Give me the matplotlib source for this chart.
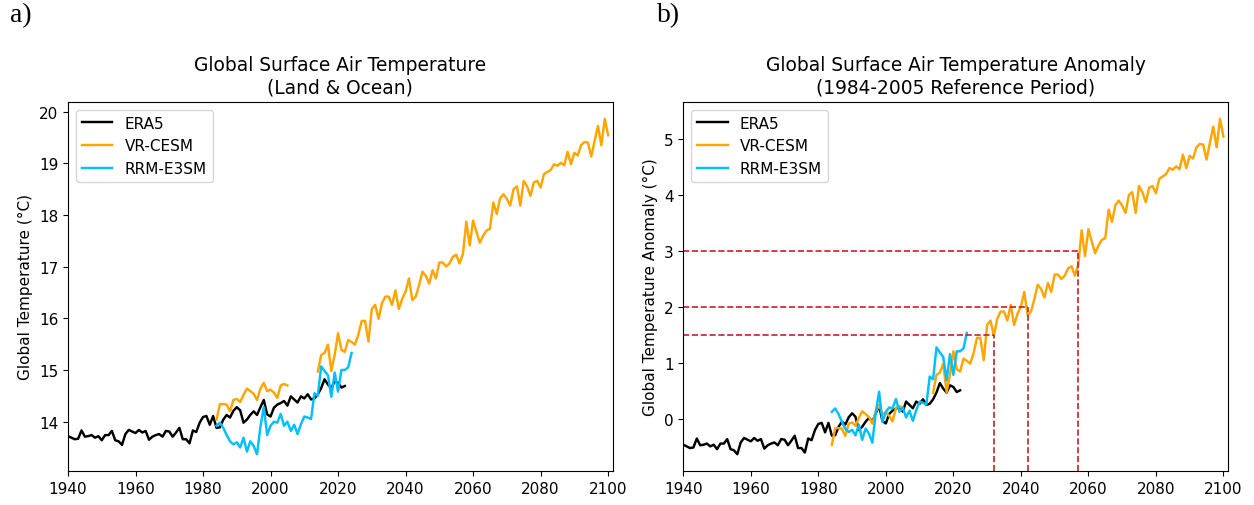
import numpy as np
import matplotlib.pyplot as plt

# annual global mean surface air temperature (degC)
era5_years = np.arange(1940, 2023)
era5_temp = [13.72, 13.69, 13.66, 13.67, 13.83, 13.71, 13.72, 13.74, 13.69, 13.72,
             13.64, 13.74, 13.74, 13.82, 13.64, 13.62, 13.55, 13.76, 13.84, 13.81,
             13.78, 13.84, 13.79, 13.82, 13.65, 13.71, 13.74, 13.76, 13.71, 13.82,
             13.81, 13.71, 13.79, 13.88, 13.66, 13.66, 13.58, 13.83, 13.80, 13.98,
             14.09, 14.11, 13.94, 14.11, 13.88, 13.89, 14.04, 14.13, 14.08, 14.21,
             14.28, 14.22, 13.98, 14.04, 14.13, 14.20, 14.13, 14.28, 14.42, 14.14,
             14.10, 14.27, 14.33, 14.36, 14.40, 14.31, 14.49, 14.43, 14.37, 14.49,
             14.45, 14.53, 14.43, 14.45, 14.53, 14.65, 14.82, 14.72, 14.65, 14.78,
             14.75, 14.66, 14.69]

cesm_hist_years = np.arange(1984, 2006)
cesm_hist_temp = [14.04, 14.34, 14.34, 14.33, 14.20, 14.42, 14.44, 14.38, 14.52, 14.64,
                  14.59, 14.54, 14.42, 14.64, 14.75, 14.59, 14.62, 14.56, 14.46, 14.70,
                  14.73, 14.70]

cesm_fut_years = np.arange(2014, 2101)
cesm_fut_temp = [14.97, 15.29, 15.33, 15.49, 14.98, 15.29, 15.71, 15.39, 15.35, 15.58,
                 15.54, 15.49, 15.68, 15.95, 15.95, 15.55, 16.18, 16.26, 15.99, 16.29,
                 16.42, 16.42, 16.26, 16.54, 16.18, 16.38, 16.51, 16.77, 16.35, 16.42,
                 16.64, 16.90, 16.82, 16.67, 16.93, 16.77, 17.08, 17.08, 17.00, 17.06,
                 17.19, 17.23, 17.06, 17.25, 17.87, 17.41, 17.89, 17.67, 17.46, 17.60,
                 17.70, 17.73, 18.24, 18.02, 18.32, 18.40, 18.31, 18.18, 18.50, 18.55,
                 18.18, 18.66, 18.55, 18.37, 18.63, 18.66, 18.53, 18.79, 18.83, 18.87,
                 18.98, 18.95, 19.01, 18.96, 19.22, 18.98, 19.20, 19.15, 19.35, 19.41,
                 19.40, 19.13, 19.43, 19.72, 19.35, 19.86, 19.54]

e3sm_years = np.arange(1984, 2025)
e3sm_temp = [13.92, 13.98, 13.88, 13.74, 13.62, 13.56, 13.60, 13.50, 13.69, 13.42,
             13.62, 13.53, 13.37, 13.90, 14.28, 13.74, 13.92, 14.00, 13.98, 14.15,
             13.92, 14.00, 13.82, 13.94, 13.76, 13.95, 14.10, 14.08, 14.05, 14.55,
             14.50, 15.07, 14.98, 14.90, 14.48, 14.95, 14.58, 15.00, 15.00, 15.05,
             15.33]

ref_start, ref_end = 1984, 2005
warming_levels = [1.5, 2.0, 3.0]
crossing_years = [2032, 2042, 2057]

C_ERA5 = 'black'
C_CESM = 'orange'
C_E3SM = '#00bfff'
C_REF = '#c42127'
LW = 1.75
FS = 11
FS_TITLE = 13.4

plt.rcParams['font.size'] = FS


def ref_mean(years, vals):
    years = np.asarray(years)
    vals = np.asarray(vals)
    m = (years >= ref_start) & (years <= ref_end)
    return vals[m].mean()


fig = plt.figure(figsize=(12.54, 5.06), dpi=100)
ax1 = fig.add_axes([68 / 1254, 1 - 472 / 506, 544.5 / 1254, 369 / 506])
ax2 = fig.add_axes([683.3 / 1254, 1 - 472 / 506, 544.5 / 1254, 369 / 506])

# a) absolute temperature
ax1.plot(era5_years, era5_temp, color=C_ERA5, lw=LW, label='ERA5')
ax1.plot(cesm_hist_years, cesm_hist_temp, color=C_CESM, lw=LW, label='VR-CESM')
ax1.plot(cesm_fut_years, cesm_fut_temp, color=C_CESM, lw=LW)
ax1.plot(e3sm_years, e3sm_temp, color=C_E3SM, lw=LW, label='RRM-E3SM')
ax1.set_title('Global Surface Air Temperature\n(Land & Ocean)', fontsize=FS_TITLE, pad=7)
ax1.set_ylabel('Global Temperature (°C)')
ax1.legend(loc='upper left')

# b) anomaly relative to 1984-2005
era5_ref = ref_mean(era5_years, era5_temp)
cesm_ref = ref_mean(cesm_hist_years, cesm_hist_temp)
e3sm_ref = ref_mean(e3sm_years, e3sm_temp)
ax2.plot(era5_years, np.array(era5_temp) - era5_ref, color=C_ERA5, lw=LW, label='ERA5')
ax2.plot(cesm_hist_years, np.array(cesm_hist_temp) - cesm_ref, color=C_CESM, lw=LW, label='VR-CESM')
ax2.plot(cesm_fut_years, np.array(cesm_fut_temp) - cesm_ref, color=C_CESM, lw=LW)
ax2.plot(e3sm_years, np.array(e3sm_temp) - e3sm_ref, color=C_E3SM, lw=LW, label='RRM-E3SM')
ax2.set_title('Global Surface Air Temperature Anomaly\n(1984-2005 Reference Period)',
              fontsize=FS_TITLE, pad=7)
ax2.set_ylabel('Global Temperature Anomaly (°C)')
ax2.legend(loc='upper left')

lo, hi = ax2.get_ylim()
for lvl, yr in zip(warming_levels, crossing_years):
    ax2.plot([1940, yr], [lvl, lvl], color=C_REF, lw=1.2, ls='--')
    ax2.plot([yr, yr], [lo, lvl], color=C_REF, lw=1.2, ls='--')
ax2.set_ylim(lo, hi)

for ax in (ax1, ax2):
    ax.set_xlim(1940, 2101.3)
    ax.set_xticks(np.arange(1940, 2101, 20))

fig.text(10 / 1254, 1 - 3 / 506, 'a)', family='Liberation Serif', fontsize=20, va='top')
fig.text(657 / 1254, 1 - 3 / 506, 'b)', family='Liberation Serif', fontsize=20, va='top')

fig.savefig('out.png', dpi=100)
plt.close()
